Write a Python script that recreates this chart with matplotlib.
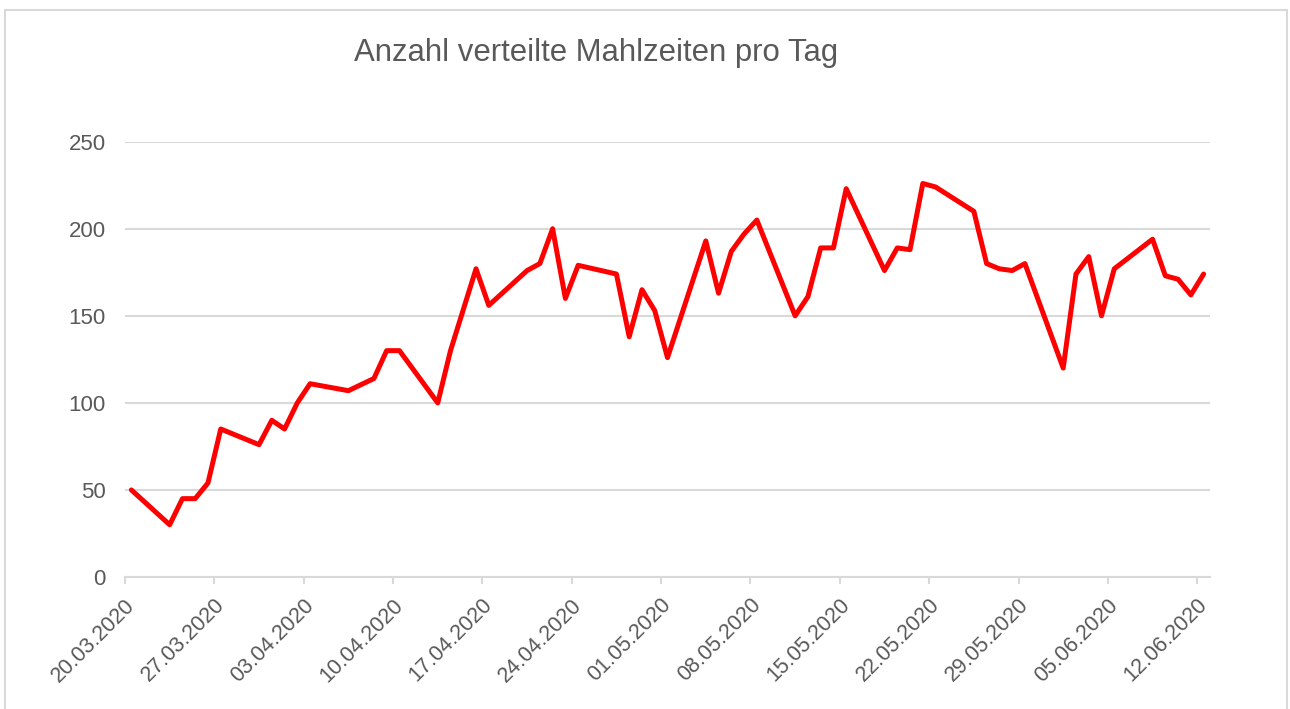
import matplotlib
matplotlib.use("Agg")
import matplotlib.pyplot as plt
import matplotlib.dates as mdates
import matplotlib.transforms as mtransforms
from matplotlib.patches import Rectangle
import pandas as pd

title = "Anzahl verteilte Mahlzeiten pro Tag"

dates = [
    "20.03.2020", "23.03.2020", "24.03.2020", "25.03.2020", "26.03.2020", "27.03.2020",
    "30.03.2020", "31.03.2020", "01.04.2020", "02.04.2020", "03.04.2020",
    "06.04.2020", "08.04.2020", "09.04.2020", "10.04.2020",
    "13.04.2020", "14.04.2020", "16.04.2020", "17.04.2020",
    "20.04.2020", "21.04.2020", "22.04.2020", "23.04.2020", "24.04.2020",
    "27.04.2020", "28.04.2020", "29.04.2020", "30.04.2020", "01.05.2020",
    "04.05.2020", "05.05.2020", "06.05.2020", "07.05.2020", "08.05.2020",
    "11.05.2020", "12.05.2020", "13.05.2020", "14.05.2020", "15.05.2020",
    "18.05.2020", "19.05.2020", "20.05.2020", "21.05.2020", "22.05.2020",
    "25.05.2020", "26.05.2020", "27.05.2020", "28.05.2020", "29.05.2020",
    "01.06.2020", "02.06.2020", "03.06.2020", "04.06.2020", "05.06.2020",
    "08.06.2020", "09.06.2020", "10.06.2020", "11.06.2020", "12.06.2020",
]
meals = [
    50, 30, 45, 45, 54, 85,
    76, 90, 85, 100, 111,
    107, 114, 130, 130,
    100, 130, 177, 156,
    176, 180, 200, 160, 179,
    174, 138, 165, 153, 126,
    193, 163, 187, 197, 205,
    150, 161, 189, 189, 223,
    176, 189, 188, 226, 224,
    210, 180, 177, 176, 180,
    120, 174, 184, 150, 177,
    194, 173, 171, 162, 174,
]

axis_start = "20.03.2020"
axis_end = "13.06.2020"
y_ticks = [0, 50, 100, 150, 200, 250]

W, H = 1290, 709
fig = plt.figure(figsize=(W / 100, H / 100), dpi=100)
fig.patch.set_facecolor("white")

ax = fig.add_axes([125 / W, 1 - 577 / H, (1210 - 125) / W, (577 - 141.7) / H])

x = pd.to_datetime(dates, format="%d.%m.%Y") + pd.Timedelta(hours=12)
ax.plot(x, meals, color="#FF0000", linewidth=3.6, solid_joinstyle="round",
        solid_capstyle="round", zorder=3)

ax.set_xlim(pd.to_datetime(axis_start, format="%d.%m.%Y"),
            pd.to_datetime(axis_end, format="%d.%m.%Y"))
ax.set_ylim(0, 250)
ax.set_yticks(y_ticks)

ax.xaxis.set_major_locator(mdates.DayLocator(interval=7))
ax.xaxis.set_major_formatter(mdates.DateFormatter("%d.%m.%Y"))

grid_c = "#D9D9D9"
text_c = "#595959"
ax.grid(axis="y", color=grid_c, linewidth=1.5)
ax.set_axisbelow(True)
for s in ["top", "right", "left"]:
    ax.spines[s].set_visible(False)
ax.spines["bottom"].set_color(grid_c)
ax.spines["bottom"].set_linewidth(1.5)

ax.tick_params(axis="y", length=0, pad=14, labelsize=16, labelcolor=text_c)
ax.tick_params(axis="x", length=5, width=1.5, color=grid_c, pad=13,
               labelsize=15.5, labelcolor=text_c)
for lab in ax.get_yticklabels():
    lab.set_fontfamily("Liberation Sans")
offset = mtransforms.ScaledTranslation(7 / 100, 0, fig.dpi_scale_trans)
for lab in ax.get_xticklabels():
    lab.set_fontfamily("Liberation Sans")
    lab.set_rotation(45)
    lab.set_ha("right")
    lab.set_va("center")
    lab.set_rotation_mode("anchor")
    lab.set_transform(lab.get_transform() + offset)

fig.text(596 / W, 1 - 53 / H, title, ha="center", va="center",
         fontsize=22.4, color=text_c, family="Liberation Sans")

fig.patches.append(Rectangle((5 / W, -0.05), (1287 - 5) / W, 1 - 10 / H + 0.05,
                             transform=fig.transFigure, fill=False,
                             edgecolor=grid_c, linewidth=1.5))

fig.savefig("out.png", dpi=100, facecolor="white")
